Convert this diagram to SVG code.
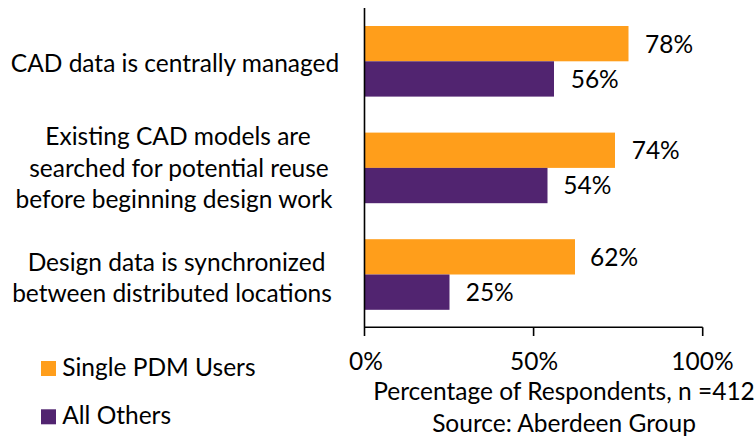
<svg xmlns="http://www.w3.org/2000/svg" width="756" height="439" viewBox="0 0 756 439">
<style>
text{font-family:Lato,"Open Sans","Liberation Sans",sans-serif;font-size:24.5px;fill:#000}
.c{text-anchor:middle}
.o{fill:#FF9E1B}
.p{fill:#512470}
.ax{stroke:#000;stroke-width:1.6;fill:none}
</style>
<rect width="756" height="439" fill="#fff"/>
<g id="bars">
<rect class="o" x="365" y="26" width="263.5" height="35.3"/>
<rect class="p" x="365" y="61.3" width="189" height="35.3"/>
<rect class="o" x="365" y="132.6" width="250" height="35.3"/>
<rect class="p" x="365" y="167.9" width="182.5" height="35.3"/>
<rect class="o" x="365" y="239.2" width="210" height="35.3"/>
<rect class="p" x="365" y="274.5" width="84.5" height="35.3"/>
</g>
<g id="connectors">
<path class="ax" d="M364.5 8V336M364.5 327.3H702.7M533.6 327.3V336M702.7 327.3V336"/>
</g>
<g id="cat1"><text class="c" x="175" y="71.7">CAD data is centrally managed</text></g>
<g id="cat2">
<text class="c" x="178" y="145">Existing CAD models are</text>
<text class="c" x="179" y="176.7">searched for potential reuse</text>
<text class="c" x="174" y="208.3">before beginning design work</text>
</g>
<g id="cat3">
<text class="c" x="176.5" y="270.7">Design data is synchronized</text>
<text class="c" x="172" y="301.5">between distributed locations</text>
</g>
<g id="values">
<text x="645" y="53.3">78%</text>
<text x="570.7" y="88.3">56%</text>
<text x="631.7" y="159.3">74%</text>
<text x="563.3" y="194.3">54%</text>
<text x="590" y="265.7">62%</text>
<text x="465.7" y="301">25%</text>
</g>
<g id="axis-labels">
<text class="c" x="366" y="370">0%</text>
<text class="c" x="534" y="370">50%</text>
<text class="c" x="702.5" y="370">100%</text>
<text class="c" x="564" y="400">Percentage of Respondents, n =412</text>
<text class="c" x="564" y="431.7">Source: Aberdeen Group</text>
</g>
<g id="legend">
<rect class="o" x="41" y="361" width="15" height="15"/>
<text x="62.3" y="375.7">Single PDM Users</text>
<rect class="p" x="41" y="409.3" width="15" height="15"/>
<text x="62.3" y="424.3">All Others</text>
</g>
</svg>
